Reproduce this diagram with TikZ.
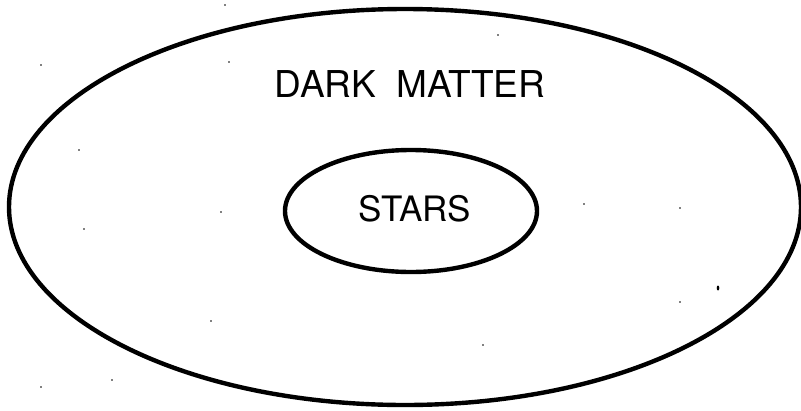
\documentclass[tikz,border=0pt]{standalone}
\usepackage{fontspec}
\setmainfont{TeX Gyre Heros}
\begin{document}
\begin{tikzpicture}[x=1pt, y=-1pt, line width=4.4pt]
	\useasboundingbox (0,0) rectangle (801,410);
	\coordinate (O) at (405,207); % tâm elip ngoài
	\coordinate (I) at (411,211); % tâm elip trong
	% Elip ngoài
	\draw (O) ellipse [x radius=396, y radius=198];
	% Elip trong
	\draw (I) ellipse [x radius=126, y radius=61];
	\node[font=\fontsize{37}{40}\selectfont] (dark) at (410,84) {DARK\ \ MATTER};
	\node[font=\fontsize{35}{40}\selectfont] (stars) at (415,209) {STARS};
	% Các chấm nhỏ
	\foreach \x/\y in {225/5, 41/65, 229/62, 498/35, 79/150, 221/212, 84/229,
		584/204, 680/208, 680/302, 211/321, 483/345, 41/387, 112/380}
		\fill (\x,\y) circle (0.9);
	\fill (718,288) ellipse [x radius=1.3, y radius=2.5];
\end{tikzpicture}
\end{document}
